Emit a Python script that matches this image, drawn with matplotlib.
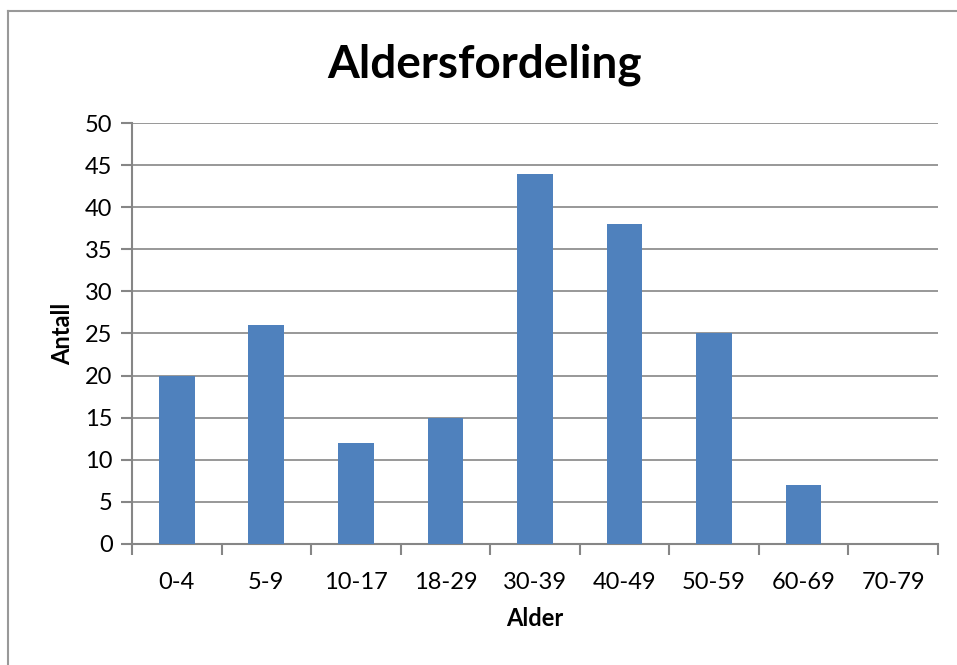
import matplotlib
matplotlib.use("Agg")
import matplotlib.pyplot as plt
from matplotlib.lines import Line2D

plt.rcParams['font.family'] = ['Lato', 'DejaVu Sans']

categories = ["0-4", "5-9", "10-17", "18-29", "30-39", "40-49", "50-59", "60-69", "70-79"]
counts = [20, 26, 12, 15, 44, 38, 25, 7, 0]

fig = plt.figure(figsize=(9.57, 6.65), dpi=100)
ax = fig.add_axes([0.138, 0.182, 0.842, 0.633])

x = range(len(categories))
ax.bar(x, counts, width=0.4, color='#4F81BD', zorder=3)

ax.set_xlim(-0.5, len(categories) - 0.5)
ax.set_ylim(0, 50)
ax.set_yticks(range(0, 51, 5))
ax.set_xticks(x)
ax.set_xticklabels(categories)
ax.set_xticks([i - 0.5 for i in range(len(categories) + 1)], minor=True)
ax.tick_params(axis='x', which='major', length=0, pad=20, labelsize=17)
ax.tick_params(axis='x', which='minor', length=8, width=1.5, color='#868686')
ax.tick_params(axis='y', length=8, width=1.5, color='#868686', labelsize=17, pad=6)

ax.grid(axis='y', color='#868686', linewidth=1.2, zorder=0)
for s in ['top', 'right']:
    ax.spines[s].set_visible(False)
for s in ['left', 'bottom']:
    ax.spines[s].set_color('#868686')
    ax.spines[s].set_linewidth(1.5)

fig.text(485/957, 1 - 65/665, "Aldersfordeling", fontsize=33, fontweight='bold',
         ha='center', va='center')
ax.set_xlabel("Alder", fontsize=17, fontweight='bold', labelpad=10)
ax.set_ylabel("Antall", fontsize=17, fontweight='bold', labelpad=8)

# outer chart border (left and top only visible)
fig.add_artist(Line2D([8/957, 8/957], [0, 1 - 11/665], color='#999999', lw=1.5, transform=fig.transFigure))
fig.add_artist(Line2D([8/957, 1], [1 - 11/665, 1 - 11/665], color='#999999', lw=1.5, transform=fig.transFigure))

fig.savefig("out.png", dpi=100)
